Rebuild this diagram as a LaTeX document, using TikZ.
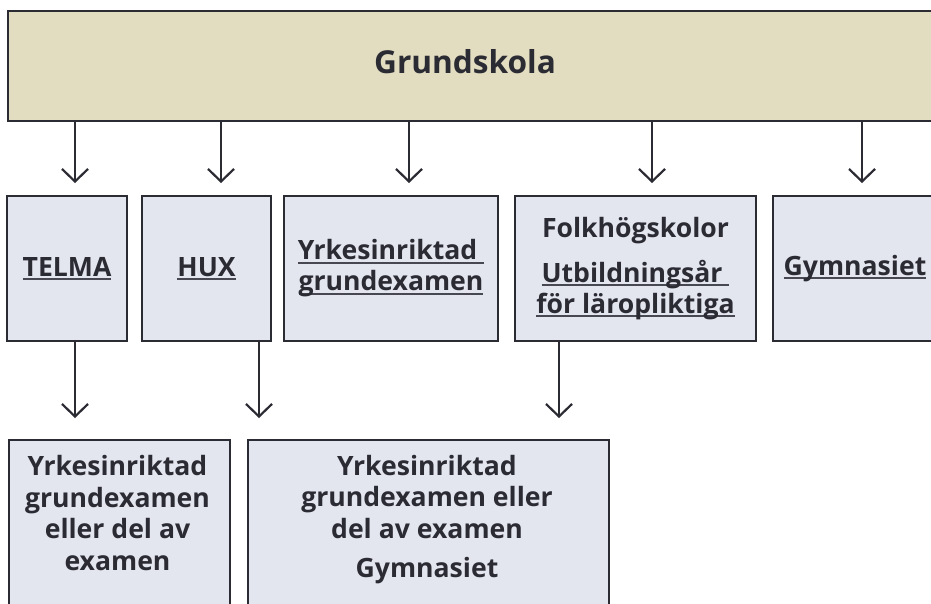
\documentclass[tikz,border=0pt]{standalone}
\usepackage{fontspec}
\setmainfont{Open Sans}
\usetikzlibrary{arrows.meta}
\definecolor{ink}{HTML}{2B2B34}
\definecolor{ulcol}{HTML}{484852}
\definecolor{topfill}{HTML}{E2DCC1}
\definecolor{boxfill}{HTML}{E4E6EF}
\newcommand{\myul}[1]{\setbox0=\hbox{#1}\rlap{\textcolor{ulcol}{\rule[-3.6pt]{\wd0}{1.8pt}}}\box0}
\tikzset{
  box/.style={draw=ink, fill=boxfill, line width=2.4pt, rectangle, inner sep=0pt,
    text=ink, align=center, font=\bfseries\fontsize{26.6}{31}\selectfont},
  topbox/.style={draw=ink, fill=topfill, line width=2.4pt, rectangle, inner sep=0pt},
  lbl/.style={text=ink, align=center, inner sep=0pt, font=\bfseries\fontsize{26.6}{31.6}\selectfont},
  arr/.style={draw=ink, line width=2.2pt, -{Straight Barb[length=12.5pt,width=26pt]}}
}
\begin{document}
\begin{tikzpicture}[x=1pt,y=-1pt]
\useasboundingbox (0,0) rectangle (931,603);
\clip (0,0) rectangle (931,603);
\fill[white] (0,0) rectangle (931,603);
% top
\node[topbox, minimum width=940pt, minimum height=110pt, anchor=north west] (top) at (7,10) {};
\node[lbl, font=\bfseries\fontsize{31.6}{36}\selectfont] (toplbl) at (465,62) {Grundskola};
% row 2
\node[box, minimum width=120pt, minimum height=145pt] (telma) at (67,268.5) {\myul{TELMA}};
\node[box, minimum width=129pt, minimum height=145pt] (hux) at (206.5,268.5) {\myul{HUX}};
\node[box, minimum width=214pt, minimum height=145pt] (yrk) at (391,268.5) {\myul{Yrkesinriktad\ }\\\myul{grundexamen}};
\node[box, minimum width=241pt, minimum height=145pt] (folk) at (635.5,268.5) {Folkhögskolor\\[14pt]\myul{Utbildningsår\ }\\\myul{för läropliktiga}};
\node[box, minimum width=164pt, minimum height=145pt] (gym) at (855,268.5) {\myul{Gymnasiet}};
% row 3
\node[topbox, fill=boxfill, minimum width=221pt, minimum height=200pt, anchor=north west] (r1) at (7.5,439) {};
\node[topbox, fill=boxfill, minimum width=361pt, minimum height=200pt, anchor=north west] (r2) at (246.5,439) {};
\node[lbl] (r1lbl) at (117.5,513) {Yrkesinriktad\\grundexamen\\eller del av\\examen};
\node[lbl] (r2lbl) at (427,519.5) {Yrkesinriktad\\grundexamen eller\\del av examen\\[8pt]Gymnasiet};
% arrows from top
\foreach \n/\x in {t1/75, t2/221, t3/409, t4/652, t5/862}{
  \coordinate (\n) at (\x,183);
  \draw[arr] (top.south -| \n) -- (\n);
}
% arrows to row 3
\coordinate (b1) at (75,418);
\coordinate (b2) at (259,418);
\coordinate (b3) at (559,418);
\draw[arr] (telma.south -| b1) -- (b1);
\draw[arr] (hux.south -| b2) -- (b2);
\draw[arr] (folk.south -| b3) -- (b3);
\end{tikzpicture}
\end{document}
